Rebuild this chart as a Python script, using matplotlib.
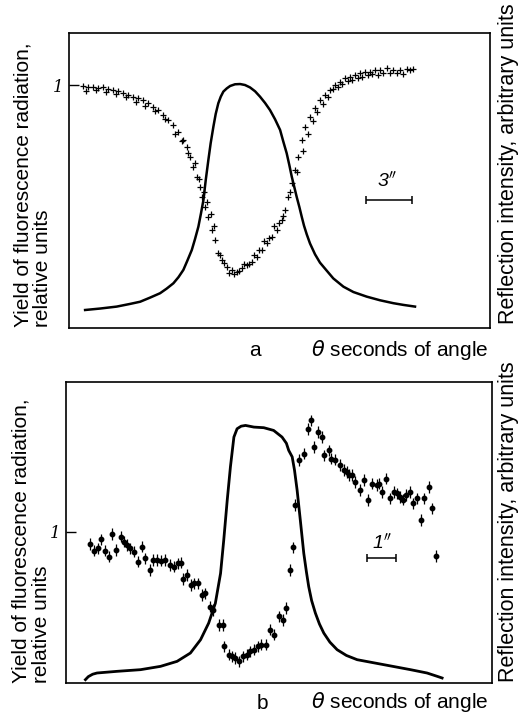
import numpy as np
import matplotlib.pyplot as plt

plt.rcParams['font.family'] = ['Liberation Sans', 'DejaVu Sans']

# panel a: angle (arcsec), reflection curve
ra_x = [-9.89, -8.91, -7.83, -6.96, -6.30, -5.65, -5.00, -4.57, -4.13, -3.80, -3.48, -3.22, -2.93,
        -2.72, -2.50, -2.33, -2.17, -2.02, -1.85, -1.70, -1.52, -1.37, -1.20, -1.04, -0.87, -0.65,
        -0.43, -0.11, 0.22, 0.54, 0.87, 1.20, 1.52, 1.85, 2.17, 2.50, 2.83, 3.04, 3.26, 3.43, 3.59,
        3.76, 3.91, 4.09, 4.24, 4.39, 4.57, 4.78, 5.11, 5.43, 5.87, 6.30, 6.96, 7.61, 8.48, 9.35,
        10.22, 10.87, 11.63]
ra_y = [0.074, 0.080, 0.088, 0.099, 0.108, 0.125, 0.143, 0.162, 0.184, 0.209, 0.239, 0.277, 0.321,
        0.366, 0.417, 0.472, 0.527, 0.609, 0.691, 0.760, 0.829, 0.881, 0.925, 0.952, 0.973, 0.986,
        0.996, 1.003, 1.004, 1.000, 0.990, 0.974, 0.952, 0.926, 0.897, 0.859, 0.815, 0.767, 0.719,
        0.671, 0.623, 0.579, 0.540, 0.497, 0.458, 0.421, 0.385, 0.348, 0.303, 0.269, 0.236, 0.204,
        0.170, 0.148, 0.129, 0.114, 0.102, 0.095, 0.088]

# panel a: fluorescence yield
fa_x = [-10.0, -9.67, -9.35, -9.02, -8.70, -8.37, -8.04, -7.72, -7.39, -7.07, -6.74, -6.41, -6.09,
        -5.76, -5.43, -5.11, -4.78, -4.46, -4.13, -3.80, -3.48, -3.26, -3.04, -2.83, -2.61, -2.39,
        -2.28, -2.07, -1.85, -1.63, -1.41, -1.20, -0.98, -0.65, -0.33, 0.0, 0.33, 0.65, 0.98, 1.30,
        1.63, 1.96, 2.28, 2.61, 2.93, 3.15, 3.37, 3.59, 3.80, 4.02, 4.24, 4.46, 4.78, 5.11, 5.43,
        5.76, 6.09, 6.41, 6.74, 7.07, 7.39, 7.72, 8.04, 8.37, 8.70, 9.02, 9.35, 9.78, 10.22, 10.65,
        11.09, 11.52]
fa_y = [0.996, 0.990, 0.993, 0.986, 0.990, 0.982, 0.979, 0.977, 0.966, 0.959, 0.952, 0.945, 0.938,
        0.925, 0.911, 0.897, 0.877, 0.856, 0.835, 0.808, 0.774, 0.746, 0.705, 0.664, 0.623, 0.582,
        0.540, 0.499, 0.458, 0.403, 0.362, 0.307, 0.280, 0.252, 0.239, 0.232, 0.246, 0.259, 0.273,
        0.294, 0.321, 0.348, 0.376, 0.403, 0.444, 0.486, 0.540, 0.595, 0.650, 0.705, 0.774, 0.829,
        0.870, 0.904, 0.938, 0.959, 0.979, 1.000, 1.014, 1.027, 1.034, 1.041, 1.048, 1.055, 1.055,
        1.062, 1.062, 1.069, 1.062, 1.062, 1.066, 1.066]
# second row of points (scatter between the first ones)
fa2_x = [-9.85, -9.20, -8.55, -7.90, -7.25, -6.60, -5.95, -5.30, -4.65, -4.00, -3.60, -3.15, -2.70,
         -2.45, -2.15, -1.95, -1.70, -1.50, -1.10, -0.80, -0.50, -0.15, 0.15, 0.50, 0.80, 1.15,
         1.45, 1.80, 2.10, 2.45, 2.75, 3.05, 3.50, 3.90, 4.35, 4.65, 4.95, 5.25, 5.60, 5.95, 6.25,
         6.60, 6.90, 7.25, 7.55, 7.90, 8.20, 8.55, 8.85, 9.20, 9.55, 10.0, 10.45, 10.85, 11.30]
fa2_y = [0.975, 0.978, 0.970, 0.962, 0.950, 0.930, 0.915, 0.895, 0.862, 0.800, 0.770, 0.720, 0.680,
         0.612, 0.560, 0.520, 0.470, 0.420, 0.300, 0.268, 0.228, 0.222, 0.236, 0.262, 0.262, 0.300,
         0.322, 0.356, 0.372, 0.420, 0.432, 0.462, 0.560, 0.640, 0.730, 0.800, 0.850, 0.890, 0.920,
         0.950, 0.985, 0.990, 1.005, 1.015, 1.020, 1.030, 1.035, 1.040, 1.045, 1.040, 1.050, 1.048,
         1.050, 1.045, 1.060]

# panel b: reflection curve
rb_x = [-6.15, -6.05, -5.90, -5.75, -5.06, -4.25, -3.56, -2.99, -2.53, -2.18, -1.90, -1.67, -1.49,
        -1.38, -1.26, -1.15, -1.03, -0.92, -0.78, -0.63, -0.34, 0.0, 0.34, 0.63, 0.78, 0.86, 0.98,
        1.06, 1.15, 1.26, 1.38, 1.47, 1.55, 1.65, 1.78, 1.92, 2.07, 2.28, 2.53, 2.85, 3.22, 4.14,
        5.06, 5.63, 5.98, 6.15]
rb_y = [0.022, 0.042, 0.058, 0.066, 0.077, 0.088, 0.110, 0.143, 0.198, 0.286, 0.396, 0.527, 0.725,
        0.945, 1.209, 1.429, 1.626, 1.681, 1.698, 1.703, 1.692, 1.688, 1.670, 1.626, 1.585, 1.538,
        1.495, 1.407, 1.275, 1.077, 0.857, 0.735, 0.637, 0.545, 0.462, 0.390, 0.330, 0.270, 0.220,
        0.182, 0.154, 0.121, 0.088, 0.066, 0.044, 0.033]

# panel b: fluorescence yield with error bars
fb_x = [-6.00, -5.86, -5.72, -5.60, -5.46, -5.34, -5.23, -5.08, -4.94, -4.83, -4.71, -4.60, -4.48,
        -4.33, -4.20, -4.08, -3.93, -3.82, -3.68, -3.54, -3.39, -3.24, -3.10, -2.97, -2.87, -2.78,
        -2.64, -2.51, -2.39, -2.28, -2.13, -2.01, -1.86, -1.75, -1.55, -1.40, -1.36, -1.21, -1.09,
        -0.98, -0.85, -0.71, -0.57, -0.46, -0.34, -0.21, -0.09, 0.06, 0.23, 0.37, 0.52, 0.67, 0.75,
        0.90, 1.01, 1.06, 1.21, 1.40, 1.52, 1.63, 1.72, 1.86, 2.01, 2.09, 2.24, 2.33, 2.47, 2.62,
        2.76, 2.87, 2.93, 3.05, 3.16, 3.31, 3.45, 3.60, 3.74, 3.89, 3.97, 4.08, 4.23, 4.34, 4.48,
        4.60, 4.71, 4.80, 4.92, 5.03, 5.15, 5.29, 5.43, 5.54, 5.69, 5.80, 5.95]
fb_y = [0.919, 0.875, 0.890, 0.949, 0.875, 0.835, 0.985, 0.879, 0.967, 0.934, 0.912, 0.890, 0.868,
        0.802, 0.901, 0.824, 0.747, 0.813, 0.813, 0.809, 0.813, 0.780, 0.769, 0.791, 0.796, 0.686,
        0.714, 0.648, 0.659, 0.659, 0.582, 0.593, 0.505, 0.484, 0.385, 0.385, 0.242, 0.187, 0.176,
        0.165, 0.143, 0.176, 0.187, 0.209, 0.220, 0.242, 0.253, 0.253, 0.352, 0.319, 0.440, 0.418,
        0.495, 0.747, 0.897, 1.176, 1.473, 1.516, 1.681, 1.736, 1.560, 1.659, 1.626, 1.505, 1.538,
        1.484, 1.477, 1.440, 1.407, 1.396, 1.374, 1.374, 1.330, 1.275, 1.341, 1.209, 1.319, 1.308,
        1.319, 1.264, 1.352, 1.220, 1.264, 1.253, 1.231, 1.213, 1.242, 1.264, 1.187, 1.220, 1.077,
        1.220, 1.297, 1.154, 0.840]
fb_err = 0.038

fig = plt.figure(figsize=(5.18, 7.13), dpi=100)

ax1 = fig.add_axes([0.1332, 0.540, 0.8127, 0.4137])
ax1.plot(ra_x, ra_y, color='black', lw=1.8, solid_joinstyle='round')
ax1.plot(fa_x, fa_y, '+', color='black', ms=4.5, mew=0.9)
ax1.plot(fa2_x, fa2_y, '+', color='black', ms=4, mew=0.9)
ax1.errorbar([9.94], [0.527], xerr=[1.52], color='black', lw=1.1, capsize=3, capthick=1.1)
ax1.text(9.8, 0.565, "3$^{\\prime\\prime}$", fontsize=14, style='italic', ha='center', va='bottom')
ax1.set_xlim(-10.94, 16.52)
ax1.set_ylim(0, 1.214)

ax2 = fig.add_axes([0.1274, 0.0421, 0.8224, 0.4221])
ax2.plot(rb_x, rb_y, color='black', lw=2.0, solid_joinstyle='round')
ax2.errorbar(fb_x, fb_y, yerr=fb_err, fmt='o', color='black', ms=3.2, elinewidth=0.9, capsize=0)
ax2.errorbar([4.06], [0.824], xerr=[0.51], color='black', lw=1.1, capsize=3, capthick=1.1)
ax2.text(4.1, 0.86, "1$^{\\prime\\prime}$", fontsize=14, style='italic', ha='center', va='bottom')
ax2.set_xlim(-6.82, 7.87)
ax2.set_ylim(0, 1.99)

for ax in (ax1, ax2):
    ax.set_xticks([])
    ax.set_yticks([1])
    ax.set_yticklabels(['1'], fontsize=12, style='italic', family='DejaVu Serif')
    ax.tick_params(axis='y', direction='in', length=7, width=1.0, pad=4)
    for s in ax.spines.values():
        s.set_linewidth(1.2)

rlab = "Reflection intensity, arbitrary units"

# panel a labels
fig.text(0.044, 0.541, "Yield of fluorescence radiation,", rotation=90, ha='center', va='bottom', fontsize=15)
fig.text(0.083, 0.541, "relative units", rotation=90, ha='center', va='bottom', fontsize=15)
fig.text(0.982, 0.770, rlab, rotation=90, ha='center', va='center', fontsize=15.5)
fig.text(0.492, 0.509, "a", ha='center', va='center', fontsize=15)
fig.text(0.771, 0.509, "$\\theta$ seconds of angle", ha='center', va='center', fontsize=15)

# panel b labels
fig.text(0.040, 0.042, "Yield of fluorescence radiation,", rotation=90, ha='center', va='bottom', fontsize=15)
fig.text(0.080, 0.042, "relative units", rotation=90, ha='center', va='bottom', fontsize=15)
fig.text(0.982, 0.269, rlab, rotation=90, ha='center', va='center', fontsize=15.5)
fig.text(0.506, 0.014, "b", ha='center', va='center', fontsize=15)
fig.text(0.771, 0.016, "$\\theta$ seconds of angle", ha='center', va='center', fontsize=15)

fig.savefig('out.png', dpi=100)
